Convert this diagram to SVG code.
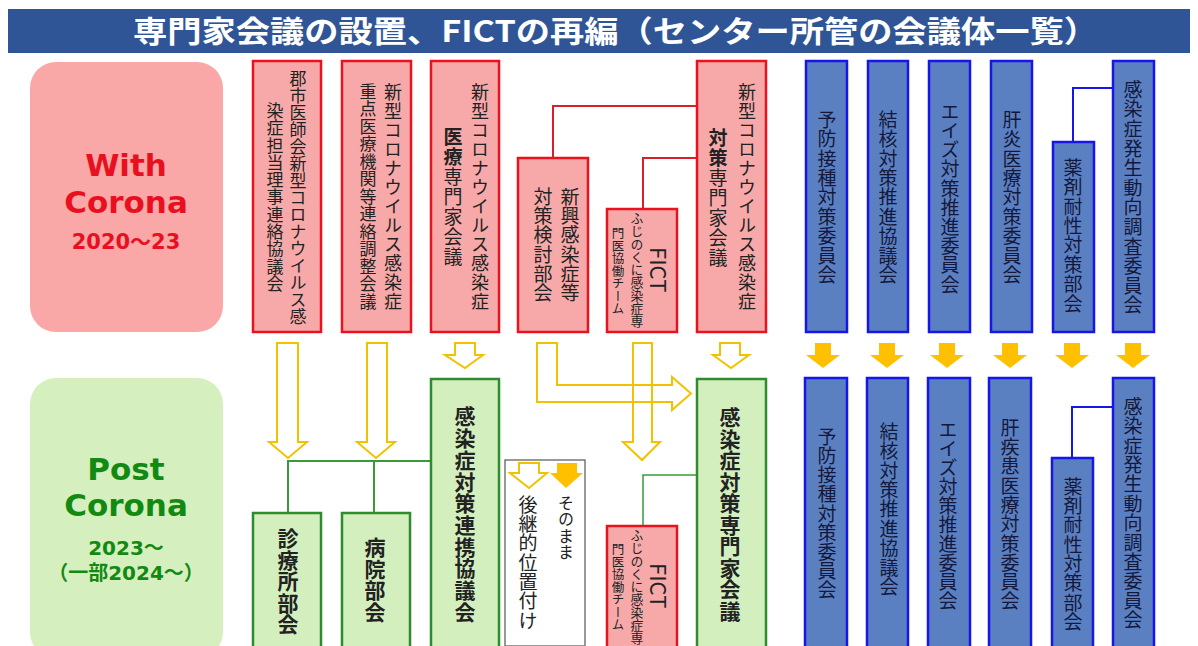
<svg xmlns="http://www.w3.org/2000/svg" width="1198" height="646" viewBox="0 0 1198 646">
<style>
.vt{writing-mode:vertical-rl;font-family:"Noto Sans CJK JP","Noto Sans CJK SC",sans-serif;fill:#222}
.b{font-weight:bold}
.red{fill:#F7A9A9;stroke:#E8131F;stroke-width:2.5}
.blue{fill:#5B80C2;stroke:#1616E8;stroke-width:2.5}
.green{fill:#D4EFBE;stroke:#2E8B2E;stroke-width:2.5}
.bt{fill:#14183a}
.hol{fill:#fff;stroke:#F2C200;stroke-width:2}
.holn{fill:none;stroke:#F2C200;stroke-width:2}
.gold{fill:#FFC000}
.lab{font-family:"DejaVu Sans","Noto Sans CJK JP",sans-serif;font-weight:bold;text-anchor:middle}
</style>
<rect x="0" y="0" width="1198" height="646" fill="#fff"/>
<g id="title">
<rect x="8" y="9" width="1182" height="44" fill="#2F5597"/>
<text x="133" y="42" textLength="965" lengthAdjust="spacingAndGlyphs" font-family="Noto Sans CJK JP, sans-serif" font-weight="bold" font-size="30" fill="#fff">専門家会議の設置、FICTの再編（センター所管の会議体一覧）</text>
</g>
<g id="with-corona">
<rect x="30" y="62" width="193" height="270" rx="26" fill="#F9A7A7"/>
<text class="lab" x="126" y="176" font-size="31" fill="#E8101E">With</text>
<text class="lab" x="126" y="213" font-size="31" fill="#E8101E">Corona</text>
<text class="lab" x="126" y="249" font-size="21" fill="#E8101E">2020～23</text>
</g>
<g id="post-corona">
<rect x="30" y="378" width="193" height="280" rx="26" fill="#D5F0BE"/>
<text class="lab" x="126" y="480" font-size="31" fill="#128A12">Post</text>
<text class="lab" x="126" y="516" font-size="31" fill="#128A12">Corona</text>
<text class="lab" x="126" y="555" font-size="20" fill="#128A12">2023～</text>
<text class="lab" x="126" y="580" font-size="20" fill="#128A12">（一部2024～）</text>
</g>
<g id="connectors">
<polyline points="553,158 553,106 697,106" fill="none" stroke="#D8202A" stroke-width="2"/>
<polyline points="643,209 643,158 697,158" fill="none" stroke="#D8202A" stroke-width="2"/>
<polyline points="1073,142 1073,88 1113,88" fill="none" stroke="#1616E8" stroke-width="2"/>
<polyline points="1072,458 1072,407 1113,407" fill="none" stroke="#1616E8" stroke-width="2"/>
<polyline points="288,513 288,461 432,461" fill="none" stroke="#3A9A3A" stroke-width="2"/>
<line x1="374" y1="461" x2="374" y2="513" stroke="#3A9A3A" stroke-width="2"/>
<polyline points="643,526 643,475 697,475" fill="none" stroke="#3A9A3A" stroke-width="1.5"/>
<path class="hol" d="M277,343 H298 V442 H307 L288,458 L269,442 H277 Z"/>
<path class="hol" d="M367,343 H387 V442 H395 L376,458 L357,442 H367 Z"/>
<path class="hol" d="M455,343 H475 V355 H483 L465,368 L445,355 H455 Z"/>
<path class="hol" d="M720,343 H740 V355 H749 L731,368 L713,355 H720 Z"/>
<path class="holn" d="M633,343 H652 V442 H660 L642,460 L623,442 H633 Z"/>
<path class="holn" d="M537,343 H557 V385 H672 V377 L691,393.5 L672,410 V402 H537 Z"/>
<path class="gold" d="M815,343 H831 V355 H840 L823,368 L806,355 H815 Z"/>
<path class="gold" d="M879,343 H895 V355 H904 L887,368 L870,355 H879 Z"/>
<path class="gold" d="M939,343 H955 V355 H964 L947,368 L930,355 H939 Z"/>
<path class="gold" d="M1002,343 H1018 V355 H1027 L1010,368 L993,355 H1002 Z"/>
<path class="gold" d="M1064,343 H1080 V355 H1089 L1072,368 L1055,355 H1064 Z"/>
<path class="gold" d="M1125,343 H1141 V355 H1150 L1133,368 L1116,355 H1125 Z"/>
</g>
<g id="n-gunshi">
<rect class="red" x="253" y="61" width="68" height="271"/>
<text class="vt" x="298" y="70" font-size="17">郡市医師会新型コロナウイルス感</text>
<text class="vt" x="275" y="102" font-size="17" letter-spacing="0.3">染症担当理事連絡協議会</text>
</g>
<g id="n-juten">
<rect class="red" x="342" y="61" width="69" height="271"/>
<text class="vt" x="393" y="83" font-size="18" letter-spacing="1">新型コロナウイルス感染症</text>
<text class="vt" x="368" y="83" font-size="17" letter-spacing="0.5">重点医療機関等連絡調整会議</text>
</g>
<g id="n-iryo">
<rect class="red" x="431" y="61" width="68" height="271"/>
<text class="vt" x="480" y="83" font-size="18" letter-spacing="1">新型コロナウイルス感染症</text>
<text class="vt" x="453" y="127" font-size="19" letter-spacing="1"><tspan class="b">医療</tspan>専門家会議</text>
</g>
<g id="n-shinko">
<rect class="red" x="518" y="158" width="70" height="174"/>
<text class="vt" x="570" y="187" font-size="19" letter-spacing="0.3">新興感染症等</text>
<text class="vt" x="543" y="187" font-size="19" letter-spacing="0.3">対策検討部会</text>
</g>
<g id="n-fict1">
<rect class="red" x="607" y="209" width="70" height="123"/>
<text class="vt" x="660" y="247" font-size="22">FICT</text>
<text class="vt" x="637" y="212" font-size="12.8">ふじのくに感染症専</text>
<text class="vt" x="618" y="227" font-size="12.5">門医協働チーム</text>
</g>
<g id="n-taisaku">
<rect class="red" x="697" y="61" width="69" height="271"/>
<text class="vt" x="747" y="83" font-size="18" letter-spacing="1">新型コロナウイルス感染症</text>
<text class="vt" x="718" y="128" font-size="19" letter-spacing="1"><tspan class="b">対策</tspan>専門家会議</text>
</g>
<g id="n-yobo1">
<rect class="blue" x="806" y="61" width="41" height="271"/>
<text class="vt bt" x="827" y="110" font-size="19" letter-spacing="0.4">予防接種対策委員会</text>
</g>
<g id="n-kekkaku1">
<rect class="blue" x="868" y="61" width="40" height="271"/>
<text class="vt bt" x="888" y="110" font-size="19" letter-spacing="0.4">結核対策推進協議会</text>
</g>
<g id="n-aids1">
<rect class="blue" x="929" y="61" width="41" height="271"/>
<text class="vt bt" x="950" y="102" font-size="19" letter-spacing="0.2">エイズ対策推進委員会</text>
</g>
<g id="n-kanen1">
<rect class="blue" x="991" y="61" width="41" height="271"/>
<text class="vt bt" x="1012" y="110" font-size="19" letter-spacing="0.4">肝炎医療対策委員会</text>
</g>
<g id="n-yakuzai1">
<rect class="blue" x="1053" y="142" width="41" height="190"/>
<text class="vt bt" x="1073" y="158" font-size="19" letter-spacing="0.4">薬剤耐性対策部会</text>
</g>
<g id="n-hassei1">
<rect class="blue" x="1113" y="61" width="41" height="271"/>
<text class="vt bt" x="1133" y="80" font-size="19" letter-spacing="0.6">感染症発生動向調査委員会</text>
</g>
<g id="n-shinryojo">
<rect class="green" x="253" y="513" width="68" height="140"/>
<text class="vt b" x="288" y="528" font-size="21" letter-spacing="0.5">診療所部会</text>
</g>
<g id="n-byoin">
<rect class="green" x="342" y="513" width="68" height="140"/>
<text class="vt b" x="375" y="537" font-size="21" letter-spacing="0.5">病院部会</text>
</g>
<g id="n-renkei">
<rect class="green" x="431" y="379" width="68" height="274"/>
<text class="vt b" x="465" y="406" font-size="21" letter-spacing="0.7">感染症対策連携協議会</text>
</g>
<g id="n-koukei">
<rect x="505" y="460" width="80" height="186" fill="#fff" stroke="#777" stroke-width="1.5"/>
<path class="hol" d="M519,463 H539 V473 H547 L529,488 L510,473 H519 Z"/>
<path class="gold" d="M557,463 H577 V473 H583 L566,488 L550,473 H557 Z"/>
<text class="vt" x="566" y="495" font-size="16" letter-spacing="0.3">そのまま</text>
<text class="vt" x="528" y="495" font-size="19" letter-spacing="0.3">後継的位置付け</text>
</g>
<g id="n-fict2">
<rect class="red" x="607" y="526" width="70" height="127"/>
<text class="vt" x="660" y="563" font-size="22">FICT</text>
<text class="vt" x="637" y="529" font-size="12.8">ふじのくに感染症専</text>
<text class="vt" x="618" y="543" font-size="12.5">門医協働チーム</text>
</g>
<g id="n-senmonka">
<rect class="green" x="697" y="379" width="69" height="274"/>
<text class="vt b" x="730" y="407" font-size="21" letter-spacing="0.5">感染症対策専門家会議</text>
</g>
<g id="n-yobo2">
<rect class="blue" x="805" y="378" width="42" height="275"/>
<text class="vt bt" x="827" y="427" font-size="19" letter-spacing="0.2">予防接種対策委員会</text>
</g>
<g id="n-kekkaku2">
<rect class="blue" x="867" y="378" width="41" height="275"/>
<text class="vt bt" x="889" y="422" font-size="19" letter-spacing="0.4">結核対策推進協議会</text>
</g>
<g id="n-aids2">
<rect class="blue" x="928" y="378" width="42" height="275"/>
<text class="vt bt" x="948" y="420" font-size="19">エイズ対策推進委員会</text>
</g>
<g id="n-kanshikkan2">
<rect class="blue" x="989" y="378" width="42" height="275"/>
<text class="vt bt" x="1010" y="418" font-size="19" letter-spacing="0.3">肝疾患医療対策委員会</text>
</g>
<g id="n-yakuzai2">
<rect class="blue" x="1052" y="458" width="41" height="195"/>
<text class="vt bt" x="1073" y="477" font-size="19" letter-spacing="0.3">薬剤耐性対策部会</text>
</g>
<g id="n-hassei2">
<rect class="blue" x="1113" y="378" width="41" height="275"/>
<text class="vt bt" x="1133" y="397" font-size="19" letter-spacing="0.4">感染症発生動向調査委員会</text>
</g>
</svg>
